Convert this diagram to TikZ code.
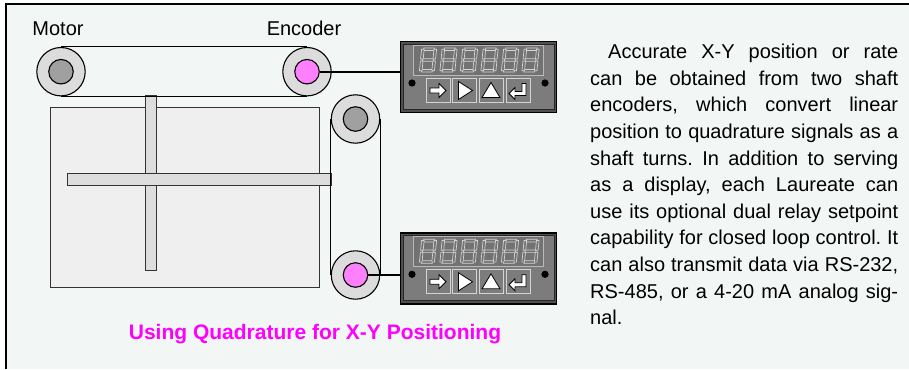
\documentclass[tikz,border=0pt]{standalone}
\usepackage{fontspec}
\setmainfont{Liberation Sans}
\usetikzlibrary{positioning}

\definecolor{panel}{HTML}{F2F7F6}
\definecolor{pulleyGray}{HTML}{DCDCDC}
\definecolor{hubGray}{HTML}{A0A0A0}
\definecolor{hubPink}{HTML}{FF80FF}
\definecolor{tableGray}{HTML}{EFEFEF}
\definecolor{barGray}{HTML}{DDDDDD}
\definecolor{meterBody}{HTML}{505050}
\definecolor{meterFace}{HTML}{7C7C7C}
\definecolor{meterWin}{HTML}{727272}
\definecolor{segLine}{HTML}{D4D4D4}
\definecolor{capMagenta}{HTML}{FF00FF}

\tikzstyle{pulley} = [circle, draw=black, line width=1.1pt, fill=pulleyGray, minimum size=48.4pt, inner sep=0pt]
\tikzstyle{hub} = [circle, draw=black, line width=1.1pt, minimum size=24.5pt, inner sep=0pt]
\tikzstyle{belt} = [draw=black, line width=0.9pt]
\tikzstyle{bar} = [draw=black!80, line width=0.9pt, fill=barGray]
\tikzstyle{meter} = [rectangle, draw=black, line width=1.6pt, fill=meterBody, minimum width=156pt, minimum height=71pt, inner sep=0pt]
\tikzstyle{segment} = [draw=segLine, line width=0.7pt, fill=meterWin]
\tikzstyle{keyBox} = [draw=segLine, line width=0.8pt, fill=meterFace]
\tikzstyle{keySym} = [draw=black, line width=0.8pt, fill=white, line join=miter]
\tikzstyle{wire} = [draw=black, line width=2pt]
\tikzstyle{label} = [inner sep=0pt, font=\fontsize{20}{24}\selectfont]

% face of a Laureate meter, drawn over the body node #1
\newcommand{\meterface}[1]{%
  \begin{scope}[shift={(#1.center)}]
    \draw[draw=black!85, fill=meterFace, line width=0.8pt] (-75.5,-32.5) rectangle (75.5,32.5);
    \draw[draw=gray!55, fill=meterWin, line width=0.9pt] (-65.5,-32) rectangle (64.5,-2);
    % six dark 7-segment digits
    \foreach \dx in {-50.5,-30,-9.5,11,31.5,52}{
      \begin{scope}[shift={(\dx,-17)}, xslant=0.1]
        \foreach \sx/\sy/\ex/\ey in {-5.5/-12/5.5/-9.4, -5.5/-1.3/5.5/1.3, -5.5/9.4/5.5/12,
                                     -7.5/-10.8/-4.9/-1, 4.9/-10.8/7.5/-1, -7.5/1/-4.9/10.8, 4.9/1/7.5/10.8}
          \draw[segment] (\sx,\sy) rectangle (\ex,\ey);
      \end{scope}
    }
    % keys
    \foreach \bx in {-40.5,-14,12.5,39.5}
      \draw[keyBox] (\bx-12,1.5) rectangle (\bx+12,25.5);
    \begin{scope}[shift={(-40.5,13.5)}]
      \draw[keySym] (-8,-2.5) -- (1,-2.5) -- (1,-7) -- (8,0) -- (1,7) -- (1,2.5) -- (-8,2.5) -- cycle;
    \end{scope}
    \begin{scope}[shift={(-14,13.5)}]
      \draw[keySym] (-6,-9) -- (8,0) -- (-6,9) -- cycle;
    \end{scope}
    \begin{scope}[shift={(12.5,13.5)}]
      \draw[keySym] (0,-8) -- (9,7) -- (-9,7) -- cycle;
    \end{scope}
    \begin{scope}[shift={(39.5,13.5)}]
      \draw[keySym] (-9,3) -- (-3,-3) -- (-3,1) -- (4,1) -- (4,-7) -- (8,-7) -- (8,5) -- (-3,5) -- (-3,9) -- cycle;
    \end{scope}
    \fill (-66.5,6) circle (3.6);
    \fill (66.5,6) circle (3.6);
  \end{scope}}

\begin{document}
\frenchspacing
\begin{tikzpicture}[x=1pt, y=-1pt]
        \useasboundingbox (0,0) rectangle (909,369);
        \fill[white] (0,0) rectangle (909,369);
        \fill[panel] (6,4) rectangle (909,369);
        \draw[line width=2.5pt] (6,369) -- (6,4) -- (909,4);

        % X-Y table with its two slides
        \draw[draw=black!80, line width=0.9pt, fill=tableGray] (50,107) rectangle (319,287);
        \draw[bar] (145.7,95.9) rectangle (156.7,270);
        \draw[bar] (67.3,173) rectangle (331.2,185);

        % pulleys
        \node (motor) [pulley] at (61,71.7) {};
        \node (encoder) [pulley] at (307,71.7) {};
        \node (idler) [pulley] at (355.5,119) {};
        \node (yenc) [pulley] at (355.5,275) {};

        \draw [belt] (motor.north) -- (encoder.north);
        \draw [belt] (motor.south) -- (encoder.south);
        \draw [belt] (idler.west) -- (yenc.west);
        \draw [belt] (idler.east) -- (yenc.east);

        \node (motorhub) [hub, fill=hubGray] at (motor) {};
        \node (enchub) [hub, fill=hubPink] at (encoder) {};
        \node (idlerhub) [hub, fill=hubGray] at (idler) {};
        \node (yhub) [hub, fill=hubPink] at (yenc) {};

        \node (motorlbl) [label, above=11pt of motor, xshift=-3pt] {Motor};
        \node (enclbl) [label, above=11pt of encoder, xshift=-3pt] {Encoder};

        % meters
        \node (disp1) [meter] at (478.5,77) {};
        \meterface{disp1}
        \node (disp2) [meter] at (478.5,268.3) {};
        \meterface{disp2}

        \draw [wire] (enchub.east) -- (enchub.east -| disp1.west);
        \draw [wire] (yhub.east) -- (yhub.east -| disp2.west);

        \node (caption) [inner sep=0pt, text=capMagenta, font=\bfseries\fontsize{21}{24}\selectfont] at (315,334) {Using Quadrature for X-Y Positioning};

        \node (blurb) [anchor=north west, inner sep=0pt, text width=308pt, align=justify, font=\fontsize{20}{26.6}\selectfont] at (590,44) {%
\hspace*{18pt}Accurate X-Y position or rate\linebreak
can be obtained from two shaft\linebreak
encoders, which convert linear\linebreak
position to quadrature signals as a\linebreak
shaft turns. In addition to serving\linebreak
as a display, each Laureate can\linebreak
use its optional dual relay setpoint\linebreak
capability for closed loop control. It\linebreak
can also transmit data via RS-232,\linebreak
RS-485, or a 4-20 mA analog sig-\linebreak
nal.};
\end{tikzpicture}
\end{document}
